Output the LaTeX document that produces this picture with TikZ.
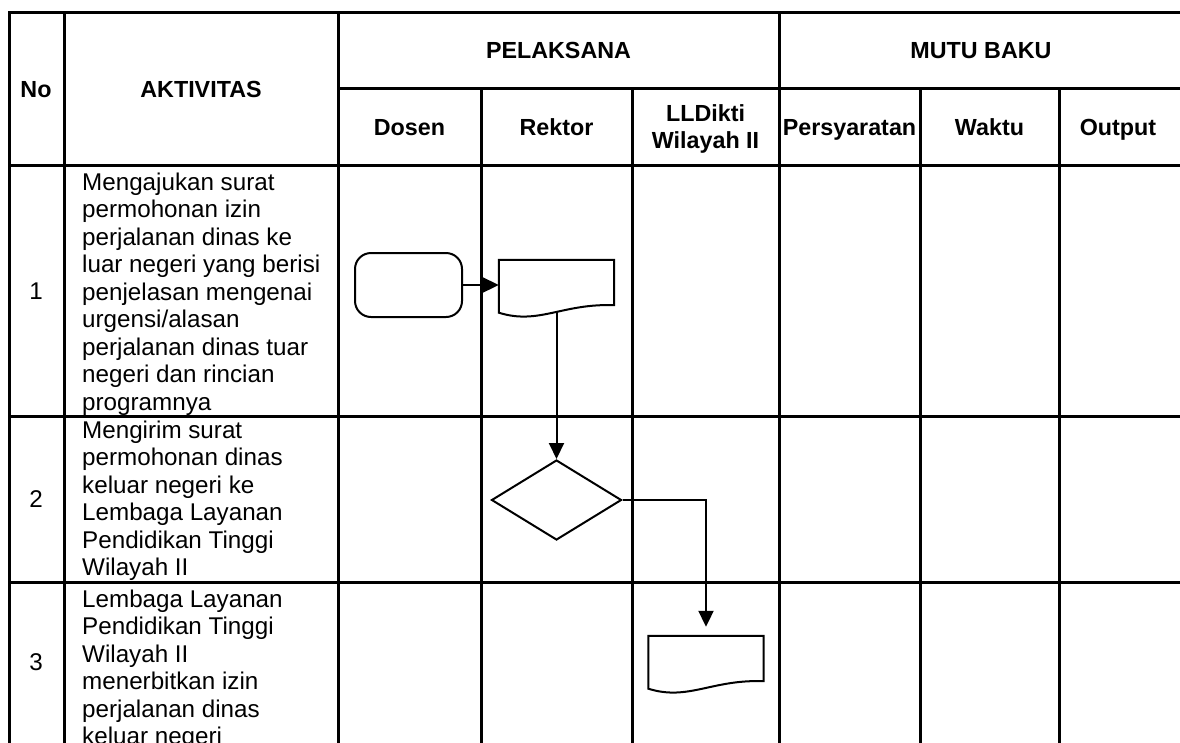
\documentclass[tikz,border=0pt]{standalone}
\usepackage{fontspec}
\setmainfont{Liberation Sans}
\usetikzlibrary{arrows.meta,shapes.geometric}

\begin{document}
\begin{tikzpicture}[x=1pt,y=-1pt,
    grid line/.style={line width=3pt, line cap=rect},
    head/.style={font=\fontsize{23.3}{27}\selectfont\bfseries, inner sep=0pt, align=center, anchor=base},
    body/.style={font=\fontsize{24.2}{27.5}\selectfont, inner sep=0pt, align=left, anchor=base west},
    num/.style={font=\fontsize{24.2}{27.5}\selectfont, inner sep=0pt, anchor=base},
    box line/.style={line width=2pt},
    terminal/.style={box line, draw, rounded corners=16pt, minimum width=107pt, minimum height=64pt, inner sep=0pt},
    decision/.style={box line, draw, diamond, minimum width=130pt, minimum height=80pt, inner sep=0pt},
    docbox/.style={minimum width=115pt, minimum height=45pt, inner sep=0pt},
    flow/.style={line width=2pt, -{Triangle[length=16pt,width=15pt]}}]

    \useasboundingbox (0,0) rectangle (1180,742);
    \clip (0,0) rectangle (1180,742);

    % Table grid
    \draw[grid line] (9,12) -- (1180,12);
    \draw[grid line] (338,88) -- (1180,88);
    \foreach \y in {165,416,582}
        \draw[grid line] (9,\y) -- (1180,\y);
    \foreach \x in {9,64,338,779}
        \draw[grid line] (\x,12) -- (\x,742);
    \foreach \x in {481,632,920,1059}
        \draw[grid line] (\x,88) -- (\x,742);

    % Header (anchored on baselines)
    \node[head] (no) at (36,97.5) {No};
    \node[head] (aktivitas) at (201,97.5) {AKTIVITAS};
    \node[head] (pelaksana) at (558.5,58.5) {PELAKSANA};
    \node[head] (mutu) at (981,58.5) {MUTU BAKU};
    \node[head] (dosen) at (409.5,135) {Dosen};
    \node[head] (rektor) at (556.5,135) {Rektor};
    \node[head] (lldikti) at (705.5,148.5) {LLDikti\\Wilayah II};
    \node[head] (syarat) at (849.5,135) {Persyaratan};
    \node[head] (waktu) at (989.5,135) {Waktu};
    \node[head] (output) at (1118,135) {Output};

    % Rows (body nodes sit on the baseline of their last line)
    \node[num] (no1) at (36,299.5) {1};
    \node[num] (no2) at (36,507.5) {2};
    \node[num] (no3) at (36,670.5) {3};

    \node[body] (act1) at (82,410) {Mengajukan surat\\permohonan izin\\perjalanan dinas ke\\luar negeri yang berisi\\penjelasan mengenai\\urgensi/alasan\\perjalanan dinas tuar\\negeri dan rincian\\programnya};
    \node[body] (act2) at (82,575.5) {Mengirim surat\\permohonan dinas\\keluar negeri ke\\Lembaga Layanan\\Pendidikan Tinggi\\Wilayah II};
    \node[body] (act3) at (82,744.5) {Lembaga Layanan\\Pendidikan Tinggi\\Wilayah II\\menerbitkan izin\\perjalanan dinas\\keluar negeri};

    % Flow
    \node[terminal] (start) at (408.5,285) {};
    \node[docbox] (surat) at (556.5,282.5) {};
    \node[decision] (kirim) at (556.5,500) {};
    \node[docbox] (izin) at (706,658.5) {};

    \draw[flow] (start.east) -- (start.east -| surat.west);
    \draw[flow] (surat.south) -- (kirim.north);
    \draw[flow, shorten >=9pt] (kirim.east) -| (izin.north);

    \foreach \d in {surat,izin}
        \draw[box line, fill=white] (\d.north west) -- (\d.north east) -- (\d.south east)
            .. controls +(-52,-2) and +(40,12.5) .. ([yshift=-7.5pt]\d.south west) -- cycle;

\end{tikzpicture}
\end{document}
